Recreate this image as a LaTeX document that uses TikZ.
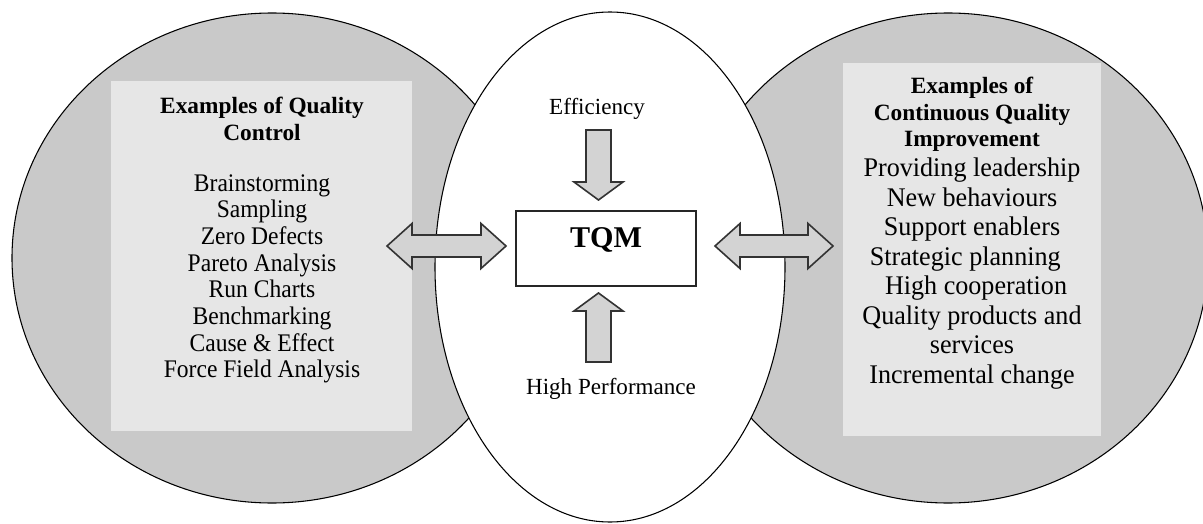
\documentclass[tikz,border=0pt]{standalone}
\usepackage{fontspec}
\setmainfont{Liberation Serif}
\newfontfamily\lnarrow[FakeStretch=0.93]{Liberation Serif}
\newfontfamily\rnarrow[FakeStretch=0.97]{Liberation Serif}
\usetikzlibrary{shapes.geometric}
\definecolor{circgray}{RGB}{201,201,201}
\definecolor{boxgray}{RGB}{230,230,230}
\definecolor{arrgray}{RGB}{211,211,211}
\newcommand\hdblarrow[3]{% left tip x, right tip x, centre y
  \filldraw[blockarrow] (#1,#3) -- ({#1+25},{#3-22.5}) -- ({#1+25},{#3-11}) -- ({#2-25},{#3-11}) -- ({#2-25},{#3-22.5}) -- (#2,#3)
    -- ({#2-25},{#3+22.5}) -- ({#2-25},{#3+11}) -- ({#1+25},{#3+11}) -- ({#1+25},{#3+22.5}) -- cycle;}
\newcommand\vblkarrow[3]{% centre x, tail y, tip y
  \filldraw[blockarrow] (#1,#2) -- ({#1+12.5},#2) -- ({#1+12.5},{#3-18*sign(#3-#2)}) -- ({#1+24.5},{#3-18*sign(#3-#2)}) -- (#1,#3)
    -- ({#1-24.5},{#3-18*sign(#3-#2)}) -- ({#1-12.5},{#3-18*sign(#3-#2)}) -- ({#1-12.5},#2) -- cycle;}
\begin{document}
\begin{tikzpicture}[x=0.75pt,y=-0.75pt,
  lobe/.style={ellipse, draw=black, line width=0.8pt, fill=circgray, minimum width=390pt, minimum height=367.5pt, inner sep=0pt},
  mid/.style={ellipse, draw=black, line width=0.8pt, fill=white, minimum width=262.5pt, minimum height=382.5pt, inner sep=0pt},
  panel/.style={fill=boxgray, inner sep=0pt},
  blockarrow/.style={fill=arrgray, draw=black!80, line width=1.2pt, line join=miter},
  title/.style={font=\bfseries\fontsize{17.5}{19.8}\selectfont, align=center, inner sep=0pt},
  lbody/.style={font=\lnarrow\fontsize{19}{20}\selectfont, align=center, inner sep=0pt},
  rbody/.style={font=\rnarrow\fontsize{20.2}{22.1}\selectfont, align=center, inner sep=0pt},
  lab/.style={font=\fontsize{17.3}{20}\selectfont, inner sep=0pt}]
\clip (0,0) rectangle (1203,524);
\fill[white] (0,0) rectangle (1203,524);
\node[lobe] (lc) at (272,258) {};
\node[lobe] (rc) at (948,258) {};
\node[mid] (mc) at (610,267) {};
\node[panel, minimum width=225.75pt, minimum height=262.5pt] (lp) at (261.5,256) {};
\node[panel, minimum width=193.5pt, minimum height=279.75pt] (rp) at (972,249.5) {};
\node[title] (lt) at (262,119) {Examples of Quality\\Control};
\node[lbody] (lb) at (262,279) {Brainstorming\\Sampling\\Zero Defects\\Pareto Analysis\\Run Charts\\Benchmarking\\Cause \& Effect\\Force Field Analysis};
\node[title] (rt) at (972,114.5) {Examples of\\Continuous Quality\\Improvement};
\node[rbody] (rb) at (972,273.5) {Providing leadership\\New behaviours\\Support enablers\\Strategic planning\rule{0.5em}{0pt}\\\rule{0.3em}{0pt}High cooperation\\Quality products and\\services\\Incremental change};
\node[draw=black!85, line width=1pt, fill=white, minimum width=135pt, minimum height=56.25pt, inner sep=0pt] (tqm) at (606,248.5) {};
\node[font=\bfseries\fontsize{22.6}{24}\selectfont, inner sep=0pt] (tqmt) at (606,240) {TQM};
\node[lab] (eff) at (597,109) {Efficiency};
\node[lab] (hp) at (611,389) {High Performance};
\hdblarrow{387}{506}{246}
\hdblarrow{715}{833}{246}
\vblkarrow{598.5}{130}{200}
\vblkarrow{598.5}{362}{293}
\end{tikzpicture}
\end{document}
